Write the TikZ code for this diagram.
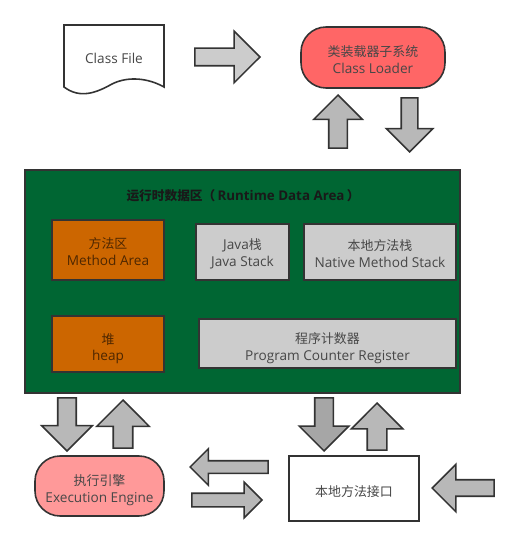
\documentclass[tikz,border=0pt]{standalone}
\usepackage{fontspec}
\setmainfont{Open Sans}
\newfontfamily\cjk[Scale=.95]{Noto Sans CJK SC}
\usetikzlibrary{shapes.arrows}
\definecolor{linegray}{HTML}{333333}
\definecolor{areagreen}{HTML}{006633}
\definecolor{heaporange}{HTML}{CC6600}
\definecolor{loaderred}{HTML}{FF6666}
\definecolor{enginered}{HTML}{FF9999}
\definecolor{stackgray}{HTML}{CCCCCC}
\newcommand{\toppad}[1]{\rule{0pt}{#1pt}}
\tikzset{
  box/.style={draw=linegray,line width=.9pt,font=\fontsize{7.75}{9.3}\selectfont,
    text=black!72,align=center,inner sep=0pt},
  areabox/.style={box,fill=stackgray},
  orangebox/.style={box,fill=heaporange,text=black!62!heaporange},
  roundbox/.style={box,rounded corners=.5cm},
  blockarrow/.style n args={3}{draw=linegray,line width=.9pt,fill=black!28,
    single arrow,anchor=tip,inner xsep=0pt,inner ysep=#1*.01cm,
    single arrow head extend=#2*.02cm,minimum height=#3*.02cm,minimum width=1pt}
}
\begin{document}
\begin{tikzpicture}[x=.02cm,y=-.02cm]
\useasboundingbox (0,0) rectangle (517,546);

% Class File
\draw[line width=.9pt,draw=linegray,fill=white]
  (64,25) -- (164,25) -- (164,87)
  .. controls (148,78) and (128,76) .. (112,84)
  .. controls (96,93) and (80,99) .. (64,87) -- cycle;
\node[box,draw=none] (classfile) at (114,58) {Class File};
\node[blockarrow={16}{17}{65},fill=stackgray] (filearrow) at (261,57) {};

% Class Loader
\node[roundbox,fill=loaderred,minimum width=2.88cm,minimum height=1.22cm] (loader) at (373,57.5)
  {\toppad{8.7}{\cjk 类装载器子系统}\\Class Loader};
\node[blockarrow={17}{15}{53},rotate=90] (loaderup) at (338,94) {};
\node[blockarrow={15}{15}{54},rotate=-90] (loaderdown) at (409.5,153) {};

% Runtime Data Area
\node[box,fill=areagreen,minimum width=8.7cm,minimum height=4.46cm] (area) at (242.5,281.5) {};
\node[font=\fontsize{7.6}{9.3}\selectfont\bfseries,text=black!90,inner sep=0pt] (areatitle) at (243,196)
  {{\cjk 运行时数据区（}\,Runtime Data Area\,{\cjk ）}};
\node[orangebox,minimum width=2.24cm,minimum height=1.2cm] (method) at (108,250)
  {\toppad{8.2}{\cjk 方法区}\\Method Area};
\node[areabox,minimum width=1.86cm,minimum height=1.12cm] (javastack) at (242.5,252)
  {\toppad{8.2}Java{\cjk 栈}\\Java Stack};
\node[areabox,minimum width=3.04cm,minimum height=1.12cm] (nativestack) at (380,252)
  {\toppad{8.2}{\cjk 本地方法栈}\\Native Method Stack};
\node[orangebox,minimum width=2.24cm,minimum height=1.12cm] (heap) at (108,344)
  {\toppad{11.4}{\cjk 堆}\\heap};
\node[areabox,minimum width=5.14cm,minimum height=.98cm] (counter) at (327.5,343.5)
  {\toppad{11.4}{\cjk 程序计数器}\\Program Counter Register};

% Execution Engine
\node[roundbox,fill=enginered,minimum width=2.58cm,minimum height=1.2cm] (engine) at (99.5,486)
  {\toppad{11}{\cjk 执行引擎}\\Execution Engine};
\node[blockarrow={17}{16}{53},rotate=-90] (enginedown) at (67,452) {};
\node[blockarrow={18}{16.5}{48},rotate=90] (engineup) at (123,399) {};

% Native Interface
\node[box,fill=white,minimum width=2.6cm,minimum height=1.3cm] (interface) at (354,488.5)
  {\toppad{9.2}{\cjk 本地方法接口}};
\node[blockarrow={17}{15.5}{53},rotate=-90,fill=black!35] (interfacedown) at (324,452) {};
\node[blockarrow={18}{16}{47},rotate=90] (interfaceup) at (377,402) {};
\node[blockarrow={11}{12}{78},rotate=180] (toengine) at (189,467) {};
\node[blockarrow={12}{11}{70}] (tointerface) at (263,500) {};
\node[blockarrow={15}{15.5}{62},rotate=180] (outerarrow) at (431,488) {};

\end{tikzpicture}
\end{document}
